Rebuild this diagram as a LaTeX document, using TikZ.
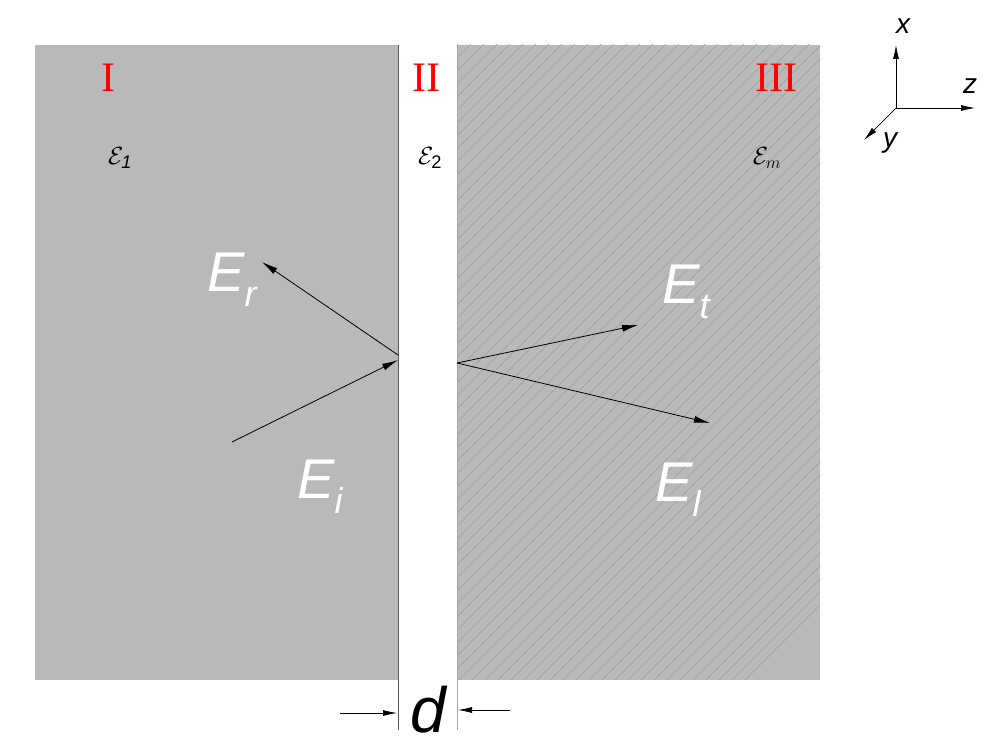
\documentclass[tikz,border=0pt]{standalone}
\usepackage{fontspec}
\setmainfont{Liberation Sans}
\newfontfamily\serf{Liberation Serif}
\usetikzlibrary{patterns,arrows.meta}
\begin{document}
\begin{tikzpicture}[x=1pt,y=-1pt,
  arr/.style={-{Latex[length=16pt,width=7pt]},line width=0.8pt},
  sarr/.style={-{Latex[length=14pt,width=6pt]},line width=0.7pt},
  roman/.style={text=red,font=\serf\fontsize{42}{44}\selectfont},
  eps/.style={font=\fontsize{26}{28}\selectfont},
  ef/.style={text=white,font=\fontsize{56}{60}\selectfont\itshape},
  ax/.style={font=\fontsize{28}{30}\selectfont\itshape}]
\useasboundingbox (0,0) rectangle (1008,749);
\fill[gray!55] (35,45) rectangle (398,680);
\fill[gray!55] (457,45) rectangle (820,680);
\begin{scope}
\clip (457,45) rectangle (820,680);
\foreach \i in {0,13,...,1000} \draw[gray!75,line width=0.4pt] (457+\i-700,680) -- (457+\i,-20);
\end{scope}
\draw[gray!70!black,line width=0.8pt] (398,45) -- (398,730);
\draw[gray!70,line width=0.8pt] (457,45) -- (457,730);
\node[roman] (n1) at (108,78) {I};
\node[roman] (n2) at (426,78) {II};
\node[roman] (n3) at (776,78) {III};
\node[eps] (e1) at (120,158) {$\mathcal{E}_{\mathit{1}}$};
\node[eps] (e2) at (430,158) {$\mathcal{E}_{\mathrm{2}}$};
\node[eps] (e3) at (767,158) {$\mathcal{E}_{m}$};
\coordinate (i0) at (232,442); \coordinate (p1) at (398,360);
\coordinate (p2) at (398,355); \coordinate (r1) at (262,262);
\coordinate (q) at (457,363); \coordinate (t1) at (638,325); \coordinate (l1) at (710,423);
\draw[arr] (i0) -- (p1);
\draw[arr] (p2) -- (r1);
\draw[arr] (q) -- (t1);
\draw[arr] (q) -- (l1);
\node[ef] (Er) at (232,280) {E\raisebox{-0.5ex}{\fontsize{36}{38}\selectfont r}};
\node[ef] (Et) at (686,292) {E\raisebox{-0.5ex}{\fontsize{36}{38}\selectfont t}};
\node[ef] (Ei) at (320,487) {E\raisebox{-0.5ex}{\fontsize{36}{38}\selectfont i}};
\node[ef] (El) at (678,490) {E\raisebox{-0.5ex}{\fontsize{36}{38}\selectfont l}};
\node[font=\fontsize{64}{66}\selectfont\itshape] (d) at (428,710) {d};
\coordinate (da) at (340,713); \coordinate (db) at (397,713);
\coordinate (dc) at (510,710); \coordinate (dd) at (458,710);
\draw[sarr] (da) -- (db);
\draw[sarr] (dc) -- (dd);
\coordinate (o) at (896,108);
\coordinate (xe) at (896,45); \coordinate (ze) at (975,108); \coordinate (ye) at (864,140);
\draw[sarr] (o) -- (xe);
\draw[sarr] (o) -- (ze);
\draw[sarr] (o) -- (ye);
\node[ax] (xl) at (903,26) {x};
\node[ax] (zl) at (970,86) {z};
\node[ax] (yl) at (890,143) {y};
\end{tikzpicture}
\end{document}
